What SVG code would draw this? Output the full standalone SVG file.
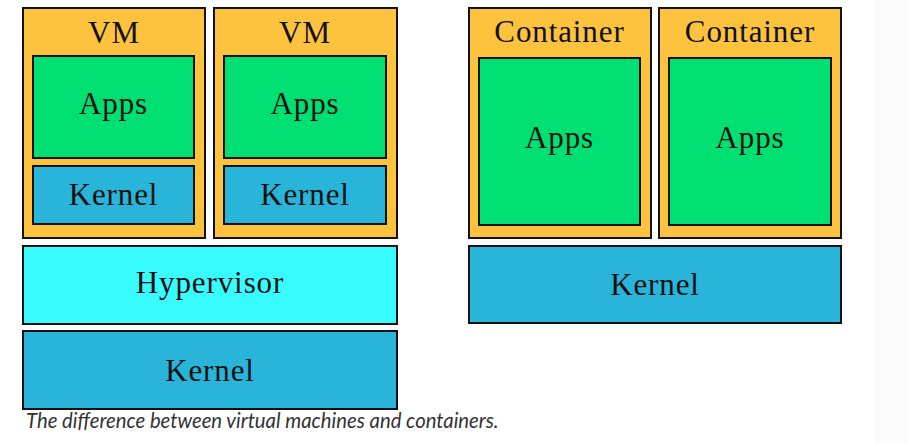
<svg xmlns="http://www.w3.org/2000/svg" width="908" height="443" viewBox="0 0 908 443">
<style>
rect.b{stroke:#111;stroke-width:2}
.orange{fill:#FDC23E}
.green{fill:#00DF72}
.blue{fill:#29B4DA}
.cyan{fill:#37FBFF}
text.l{font-family:"Liberation Serif","Times New Roman",serif;font-size:31px;letter-spacing:0.9px;fill:#111;text-anchor:middle}
text.cap{font-family:Lato,"Open Sans",sans-serif;font-style:italic;font-size:20.3px;fill:#333}
</style>
<rect x="0" y="0" width="908" height="443" fill="#ffffff"/>
<rect x="875" y="0" width="33" height="443" fill="#fbfbfb"/>
<g id="vm1">
<rect class="b orange" x="23" y="8" width="182" height="230"/>
<text class="l" x="114" y="43">VM</text>
<g id="vm1-apps"><rect class="b green" x="33" y="56" width="161" height="102"/><text class="l" x="113.5" y="114">Apps</text></g>
<g id="vm1-kernel"><rect class="b blue" x="33" y="166" width="161" height="58"/><text class="l" x="113.5" y="205">Kernel</text></g>
</g>
<g id="vm2">
<rect class="b orange" x="214" y="8" width="183" height="230"/>
<text class="l" x="305" y="43">VM</text>
<g id="vm2-apps"><rect class="b green" x="224" y="56" width="162" height="102"/><text class="l" x="305" y="114">Apps</text></g>
<g id="vm2-kernel"><rect class="b blue" x="224" y="166" width="162" height="58"/><text class="l" x="305" y="205">Kernel</text></g>
</g>
<g id="hypervisor">
<rect class="b cyan" x="23" y="246" width="374" height="78"/>
<text class="l" x="210" y="293">Hypervisor</text>
</g>
<g id="vm-kernel">
<rect class="b blue" x="23" y="331" width="374" height="78"/>
<text class="l" x="210" y="381">Kernel</text>
</g>
<g id="container1">
<rect class="b orange" x="469" y="8" width="182" height="230"/>
<text class="l" x="559.5" y="42">Container</text>
<g id="c1-apps"><rect class="b green" x="479" y="58" width="161" height="167"/><text class="l" x="559.5" y="148">Apps</text></g>
</g>
<g id="container2">
<rect class="b orange" x="659" y="8" width="182" height="230"/>
<text class="l" x="750" y="42">Container</text>
<g id="c2-apps"><rect class="b green" x="669" y="58" width="162" height="167"/><text class="l" x="750" y="148">Apps</text></g>
</g>
<g id="c-kernel">
<rect class="b blue" x="469" y="246" width="372" height="77"/>
<text class="l" x="655" y="295">Kernel</text>
</g>
<g id="connectors"/>
<text class="cap" x="26" y="428">The difference between virtual machines and containers.</text>
</svg>
